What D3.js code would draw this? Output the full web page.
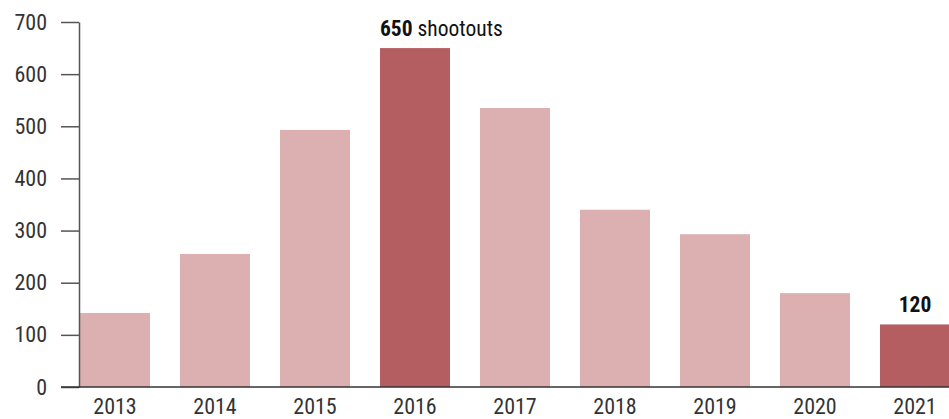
<!DOCTYPE html>
<html>
<head>
<meta charset="utf-8">
<script src="https://cdn.jsdelivr.net/npm/d3@7"></script>
<style>
  body { margin: 0; background: #fff; }
  svg text { font-family: "Roboto Condensed", "Liberation Sans Narrow", "DejaVu Sans Condensed", "Roboto", sans-serif; }
</style>
</head>
<body>
<svg id="chart" width="949" height="419"></svg>
<script>
const years = ["2013", "2014", "2015", "2016", "2017", "2018", "2019", "2020", "2021"];
const shootouts = [142, 255, 493, 650, 535, 340, 293, 180, 120];
const highlighted = ["2016", "2021"];
const yTicks = [0, 100, 200, 300, 400, 500, 600, 700];

const svg = d3.select("#chart");

const x = d3.scaleBand()
    .domain(years)
    .range([80, 950])
    .paddingInner(0.3)
    .paddingOuter(0);

const y = d3.scaleLinear()
    .domain([0, 700])
    .range([387, 22]);

// bars
svg.append("g")
    .selectAll("rect")
    .data(years)
    .enter().append("rect")
    .attr("x", d => x(d))
    .attr("width", x.bandwidth())
    .attr("y", (d, i) => y(shootouts[i]))
    .attr("height", (d, i) => y(0) - y(shootouts[i]))
    .attr("fill", d => highlighted.includes(d) ? "#b55e62" : "#dcafb1");

// y axis
const yAxis = svg.append("g")
    .attr("transform", "translate(79,0)")
    .call(d3.axisLeft(y).tickValues(yTicks).tickSize(18).tickPadding(14).tickSizeOuter(0));
yAxis.select(".domain").attr("stroke", "#555").attr("stroke-width", 1.5);
yAxis.selectAll(".tick line").attr("stroke", "#555").attr("stroke-width", 1.5);
yAxis.selectAll(".tick text").attr("fill", "#333").attr("font-size", 22);

// x axis
const xAxis = svg.append("g")
    .attr("transform", "translate(0,387)")
    .call(d3.axisBottom(x).tickSize(0).tickPadding(11));
xAxis.select(".domain").attr("d", "M61,0H949").attr("stroke", "#333").attr("stroke-width", 1.5);
xAxis.selectAll(".tick text").attr("fill", "#333").attr("font-size", 22);

// annotations
const peak = svg.append("text")
    .attr("x", x("2016"))
    .attr("y", y(650) - 12)
    .attr("font-size", 21.5)
    .attr("fill", "#111");
peak.append("tspan").attr("font-weight", "bold").text("650");
peak.append("tspan").text(" shootouts");

svg.append("text")
    .attr("x", x("2021") + x.bandwidth() / 2)
    .attr("y", y(120) - 12)
    .attr("text-anchor", "middle")
    .attr("font-size", 21.5)
    .attr("font-weight", "bold")
    .attr("fill", "#111")
    .text("120");
</script>
</body>
</html>
